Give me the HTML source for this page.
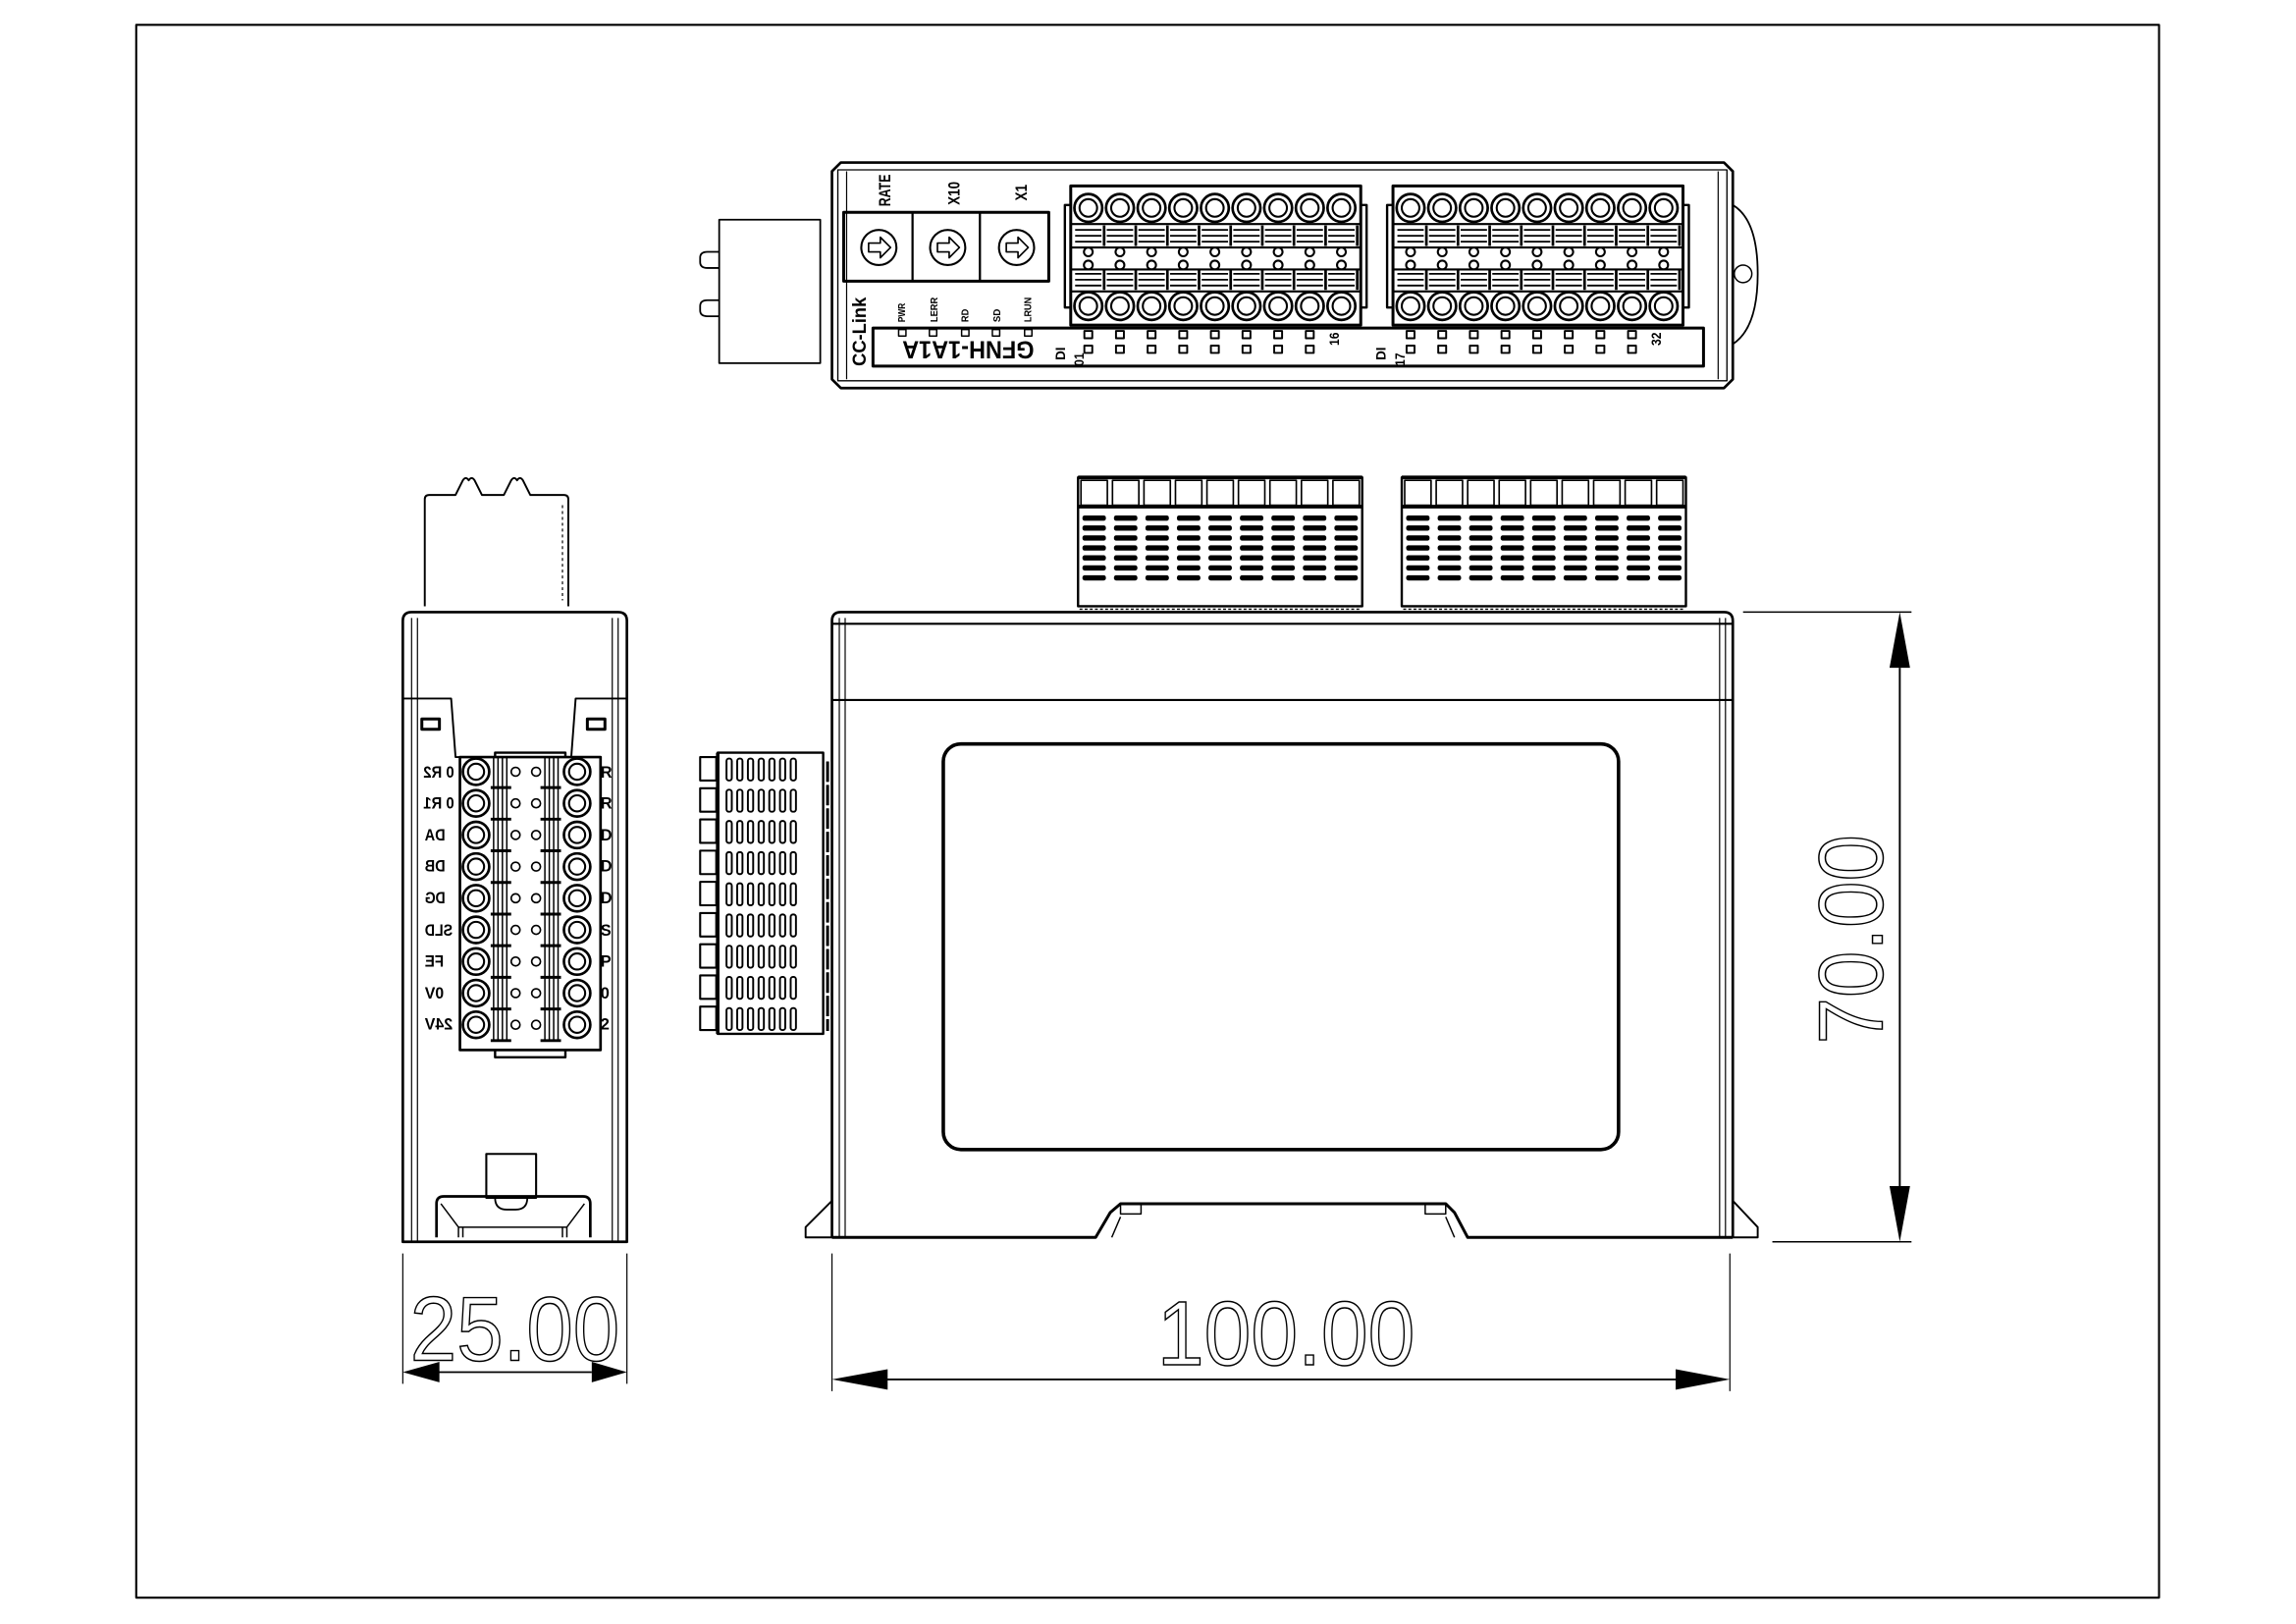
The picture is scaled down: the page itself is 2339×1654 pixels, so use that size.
<!DOCTYPE html>
<html><head><meta charset="utf-8">
<style>
html,body{margin:0;padding:0;background:#fff;}
svg{display:block;}
.b{font-family:"Liberation Sans",sans-serif;font-weight:bold;fill:#000;}
.d{font-family:"Liberation Sans",sans-serif;fill:none;stroke:#000;stroke-width:1;}
</style></head>
<body>
<svg id="s" width="2339" height="1654" viewBox="0 0 1567.5 1109" preserveAspectRatio="none" xmlns="http://www.w3.org/2000/svg">
<rect x="0" y="0" width="1567.5" height="1109" fill="#fff"/>
<g fill="none" stroke="#000" stroke-width="1.5" stroke-linejoin="round">
<rect x="93" y="17" width="1381" height="1074" stroke-width="1.4"/>

<rect x="491" y="150" width="69" height="98" stroke-width="1.2"/>
<path d="M491 172 h-8 q-5 0 -5 4 v3 q0 4 5 4 h8 M491 205 h-8 q-5 0 -5 4 v3 q0 4 5 4 h8" stroke-width="1.2"/>
<path d="M1183 140 q17 10 17 47 q0 37 -17 48" stroke-width="1.2"/>
<circle cx="1190" cy="187" r="6" stroke-width="1"/>
<path d="M574 111 H1177 L1183 117 V259 L1177 265 H574 L568 259 V117 Z" stroke-width="1.8"/>
<path d="M572 116 H1179 V260 H572 Z" stroke-width="0.9"/>
<path d="M578 117 V259 M1173 117 V259" stroke-width="0.8"/>
<rect x="576" y="145" width="140" height="47" stroke-width="2"/>
<path d="M623 145 V192 M669 145 V192" stroke-width="1.5"/>
<circle cx="600" cy="169" r="12" stroke-width="1.4"/>
<circle cx="647" cy="169" r="12" stroke-width="1.4"/>
<circle cx="694" cy="169" r="12" stroke-width="1.4"/>
<path d="M593 166 h8 v-4 l7 7 -7 7 v-4 h-8 z M640 166 h8 v-4 l7 7 -7 7 v-4 h-8 z M687 166 h8 v-4 l7 7 -7 7 v-4 h-8 z" stroke-width="1.1"/>
<rect x="596" y="224" width="567" height="26" stroke-width="2"/>
<g id="topblocks"></g>
<g id="leds" stroke-width="1"></g>

<path d="M290 414 V341 q0 -3 3 -3 H311 l5 -10 q2 -3 4 0 q2 -3 4 0 l5 10 H344 l5 -10 q2 -3 4 0 q2 -3 4 0 l5 10 H385 q3 0 3 3 V414" stroke-width="1.3"/>
<path d="M384 345 v65" stroke-width="0.8" stroke-dasharray="2 2"/>
<path d="M275 848 V424 q0 -6 6 -6 H422 q6 0 6 6 V848 Z" stroke-width="1.8"/>
<path d="M281 422 V848 M285 422 V848 M418 422 V848 M422 422 V848" stroke-width="0.8"/>
<path d="M275 477 H308 L311 517 H390 L393 477 H428" stroke-width="1.3"/>
<rect x="288" y="491" width="12" height="7" stroke-width="2"/>
<rect x="401" y="491" width="12" height="7" stroke-width="2"/>
<rect x="314" y="517" width="96" height="200" stroke-width="1.8"/>
<path d="M338 517 v-3 h48 v3 M338 717 v5 h48 v-5" stroke-width="1.6"/>
<g id="sideterm"></g>
<rect x="332" y="788" width="34" height="30" stroke-width="1.4"/>
<path d="M338 818 q0 8 8 8 h6 q8 0 8 -8" stroke-width="1.2"/>
<path d="M298 845 V822 q0 -5 5 -5 H398 q5 0 5 5 V845" stroke-width="1.8"/>
<path d="M301 822 L313 838 H387 L399 822 M313 838 V845 M387 838 V845 M316 838 V845 M384 838 V845" stroke-width="1"/>
<path d="M275 856 V945 M428 856 V945" stroke-width="0.8"/>
<path d="M299 937 H404" stroke-width="1.2"/>
<path d="M275 937 L300 930 V944 Z M428 937 L404 930 V944 Z" fill="#000" stroke="none"/>

<g id="frontblocks"></g>
<g id="leftconn"></g>
<path d="M568 845 V424 q0 -6 6 -6 H1177 q6 0 6 6 V845" stroke-width="1.8"/>
<path d="M568 426 H1183 M568 478 H1183" stroke-width="1.4"/>
<path d="M573 422 V845 M577 422 V845 M1174 422 V845 M1178 422 V845" stroke-width="0.8"/>
<rect x="644" y="508" width="461" height="277" rx="12" stroke-width="2.4"/>
<path d="M568 820 L550 838 V845 H568 M1183 820 L1200 838 V845 H1183" stroke-width="1.3"/>
<path d="M568 845 H748 L758 828 L765 822 H987 L993 828 L1002 845 H1183" stroke-width="2"/>
<path d="M765 822 v7 h14 v-7 M987 822 v7 h-14 v-7 M765 831 L759 845 M987 831 L993 845" stroke-width="1"/>
<path d="M568 856 V950 M1181 856 V950" stroke-width="0.8"/>
<path d="M604 942 H1146" stroke-width="1.2"/>
<path d="M568 942 L606 935 V949 Z M1181 942 L1144 935 V949 Z" fill="#000" stroke="none"/>
<path d="M1190 418 H1305 M1210 848 H1305" stroke-width="1"/>
<path d="M1297 456 V810" stroke-width="1.3"/>
<path d="M1297 418 L1290 456 H1304 Z M1297 848 L1290 810 H1304 Z" fill="#000" stroke="none"/>
</g>

<text class="b" font-size="11" transform="translate(608,141) rotate(-90)" textLength="22" lengthAdjust="spacingAndGlyphs">RATE</text>
<text class="b" font-size="11" transform="translate(655,140) rotate(-90)" textLength="16" lengthAdjust="spacingAndGlyphs">X10</text>
<text class="b" font-size="11" transform="translate(701,137) rotate(-90)" textLength="11" lengthAdjust="spacingAndGlyphs">X1</text>
<text class="b" font-size="13" transform="translate(591,250) rotate(-90)" textLength="47" lengthAdjust="spacingAndGlyphs">CC-Link</text>
<text class="b" font-size="7" transform="translate(618,220) rotate(-90)" textLength="13" lengthAdjust="spacingAndGlyphs">PWR</text>
<text class="b" font-size="7" transform="translate(640,220) rotate(-90)" textLength="17" lengthAdjust="spacingAndGlyphs">LERR</text>
<text class="b" font-size="7" transform="translate(661,220) rotate(-90)" textLength="9" lengthAdjust="spacingAndGlyphs">RD</text>
<text class="b" font-size="7" transform="translate(683,220) rotate(-90)" textLength="9" lengthAdjust="spacingAndGlyphs">SD</text>
<text class="b" font-size="7" transform="translate(704,220) rotate(-90)" textLength="17" lengthAdjust="spacingAndGlyphs">LRUN</text>
<text class="b" font-size="17" transform="translate(706,233) rotate(180)" textLength="90" lengthAdjust="spacingAndGlyphs">GFNH-1A1A</text>
<text class="b" font-size="9" transform="translate(727,246) rotate(-90)" textLength="9" lengthAdjust="spacingAndGlyphs">DI</text>
<text class="b" font-size="9" transform="translate(740,250) rotate(-90)" textLength="9" lengthAdjust="spacingAndGlyphs">01</text>
<text class="b" font-size="9" transform="translate(914,236) rotate(-90)" textLength="9" lengthAdjust="spacingAndGlyphs">16</text>
<text class="b" font-size="9" transform="translate(946,246) rotate(-90)" textLength="9" lengthAdjust="spacingAndGlyphs">DI</text>
<text class="b" font-size="9" transform="translate(959,250) rotate(-90)" textLength="9" lengthAdjust="spacingAndGlyphs">17</text>
<text class="b" font-size="9" transform="translate(1134,236) rotate(-90)" textLength="9" lengthAdjust="spacingAndGlyphs">32</text>

<g class="b" font-size="11">
<text transform="translate(310,531) scale(-1,1)" textLength="21" lengthAdjust="spacingAndGlyphs">0 R2</text>
<text transform="translate(310,552) scale(-1,1)" textLength="21" lengthAdjust="spacingAndGlyphs">0 R1</text>
<text transform="translate(304,574) scale(-1,1)" textLength="14" lengthAdjust="spacingAndGlyphs">DA</text>
<text transform="translate(304,595) scale(-1,1)" textLength="14" lengthAdjust="spacingAndGlyphs">DB</text>
<text transform="translate(304,617) scale(-1,1)" textLength="14" lengthAdjust="spacingAndGlyphs">DG</text>
<text transform="translate(309,639) scale(-1,1)" textLength="19" lengthAdjust="spacingAndGlyphs">SLD</text>
<text transform="translate(303,660) scale(-1,1)" textLength="13" lengthAdjust="spacingAndGlyphs">FE</text>
<text transform="translate(303,682) scale(-1,1)" textLength="13" lengthAdjust="spacingAndGlyphs">0V</text>
<text transform="translate(309,703) scale(-1,1)" textLength="19" lengthAdjust="spacingAndGlyphs">24V</text>
<text x="410" y="531">R</text><text x="410" y="552">R</text><text x="410" y="574">D</text>
<text x="410" y="595">D</text><text x="410" y="617">D</text><text x="410" y="639">S</text>
<text x="410" y="660">P</text><text x="410" y="682">0</text><text x="410" y="703">2</text>
</g>

<text class="d" font-size="62" x="280" y="929" textLength="143" lengthAdjust="spacingAndGlyphs">25.00</text>
<text class="d" font-size="62" x="790" y="932" textLength="176" lengthAdjust="spacingAndGlyphs">100.00</text>
<text class="d" font-size="62" transform="translate(1285,713) rotate(-90)" textLength="143" lengthAdjust="spacingAndGlyphs">70.00</text>
</svg>
<script>
var NS="http://www.w3.org/2000/svg";
function add(g,tag,a){var e=document.createElementNS(NS,tag);for(var k in a)e.setAttribute(k,a[k]);g.appendChild(e);return e;}
var tb=document.getElementById("topblocks");
[731,951].forEach(function(x0){
  add(tb,"rect",{x:x0,y:127,width:198,height:95,"stroke-width":2});
  add(tb,"path",{d:"M"+x0+" 140 h-4 v70 h4","stroke-width":1.6});
  add(tb,"path",{d:"M"+(x0+198)+" 140 h4 v70 h-4","stroke-width":1.6});
  for(var i=0;i<9;i++){
    var cx=x0+12+i*21.6;
    add(tb,"circle",{cx:cx,cy:142,r:9.5,"stroke-width":1.8});
    add(tb,"circle",{cx:cx,cy:142,r:6,"stroke-width":1.4});
    add(tb,"circle",{cx:cx,cy:209,r:9.5,"stroke-width":1.8});
    add(tb,"circle",{cx:cx,cy:209,r:6,"stroke-width":1.4});
    add(tb,"path",{d:"M"+(cx-9)+" 157 h18 M"+(cx-9)+" 161 h18 M"+(cx-9)+" 165 h18 M"+(cx-9)+" 187 h18 M"+(cx-9)+" 191 h18 M"+(cx-9)+" 195 h18","stroke-width":1.2});
    add(tb,"path",{d:"M"+(cx+10.8)+" 154 v14 M"+(cx+10.8)+" 184 v14","stroke-width":1.8});
    add(tb,"circle",{cx:cx,cy:172,r:3,"stroke-width":1.4});
    add(tb,"circle",{cx:cx,cy:181,r:3,"stroke-width":1.4});
  }
  add(tb,"path",{d:"M"+x0+" 153 h198 M"+x0+" 169 h198 M"+x0+" 184 h198 M"+x0+" 199 h198","stroke-width":1.4});
});
var ld=document.getElementById("leds");
[616,637,659,680,702].forEach(function(x){add(ld,"rect",{x:x-2.5,y:225,width:5,height:4.5});});
[731,951].forEach(function(x0){
  for(var i=0;i<8;i++){var cx=x0+12+i*21.6;
    add(ld,"rect",{x:cx-2.7,y:226,width:5.4,height:5,"stroke-width":1.3});
    add(ld,"rect",{x:cx-2.7,y:236,width:5.4,height:5,"stroke-width":1.3});}
});
var st=document.getElementById("sideterm");
for(var r=0;r<9;r++){var cy=527+r*21.6;
  add(st,"circle",{cx:325,cy:cy,r:9,"stroke-width":1.8});
  add(st,"circle",{cx:325,cy:cy,r:5.5,"stroke-width":1.4});
  add(st,"circle",{cx:394,cy:cy,r:9,"stroke-width":1.8});
  add(st,"circle",{cx:394,cy:cy,r:5.5,"stroke-width":1.4});
  add(st,"path",{d:"M337 "+(cy-10)+" v20 M340 "+(cy-10)+" v20 M343 "+(cy-10)+" v20 M346 "+(cy-10)+" v20 M372 "+(cy-10)+" v20 M375 "+(cy-10)+" v20 M378 "+(cy-10)+" v20 M381 "+(cy-10)+" v20","stroke-width":1});
  add(st,"circle",{cx:352,cy:cy,r:3,"stroke-width":1.1});
  add(st,"circle",{cx:366,cy:cy,r:3,"stroke-width":1.1});
  add(st,"path",{d:"M335 "+(cy+10.8)+" h14 M369 "+(cy+10.8)+" h14","stroke-width":2});
}
var fb=document.getElementById("frontblocks");
[736,957].forEach(function(x0){
  add(fb,"rect",{x:x0,y:326,width:194,height:88,"stroke-width":1.6});
  add(fb,"path",{d:"M"+x0+" 346 h194","stroke-width":2.5});
  add(fb,"path",{d:"M"+x0+" 326 h194","stroke-width":2.5});
  for(var i=0;i<9;i++){var cx=x0+2+i*21.5;
    add(fb,"rect",{x:cx,y:328,width:18,height:17,"stroke-width":1.1});
    for(var j=0;j<7;j++) add(fb,"rect",{x:cx+1,y:352+j*6.8,width:16,height:3.6,rx:1.5,fill:"#000",stroke:"none"});
  }
  add(fb,"path",{d:"M"+(x0+1)+" 416 h192","stroke-width":1,"stroke-dasharray":"2 1.5"});
});
var lc=document.getElementById("leftconn");
add(lc,"rect",{x:490,y:514,width:72,height:192,"stroke-width":1.6});
add(lc,"path",{d:"M490 514 v192","stroke-width":2.4});
for(var r=0;r<9;r++){var y=517+r*21.3;
  add(lc,"rect",{x:478,y:y,width:11,height:16,"stroke-width":1.4});
  for(var k=0;k<7;k++) add(lc,"rect",{x:496+k*7.3,y:y+1,width:3.6,height:15,rx:1.6,"stroke-width":1.3});
}
add(lc,"path",{d:"M565 520 v184","stroke-width":2,"stroke-dasharray":"14 2"});
</script>
</body></html>
